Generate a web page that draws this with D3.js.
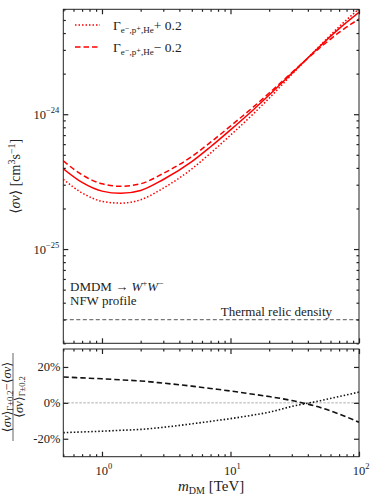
<!DOCTYPE html>
<html lang="en">
<head>
<meta charset="UTF-8">
<title>DM annihilation limits</title>
<script src="https://cdnjs.cloudflare.com/ajax/libs/d3/7.8.5/d3.min.js"></script>
<style>
  body { margin: 0; background: #fff; }
  svg text { fill: #222; }
</style>
</head>
<body>
<script>
// masses in TeV
const masses = [0.5, 0.7, 1, 1.4, 2, 3, 5, 7, 10, 15, 20, 30, 50, 70, 100];
// <sigma v> in cm^3 s^-1
const sigmaCentral = [3.94e-25, 3.12e-25, 2.69e-25, 2.59e-25, 2.72e-25, 3.28e-25, 4.45e-25, 5.74e-25, 7.66e-25, 1.076e-24, 1.387e-24, 2.01e-24, 3.21e-24, 4.31e-24, 5.70e-24];
const sigmaPlus = [3.29e-25, 2.61e-25, 2.26e-25, 2.19e-25, 2.32e-25, 2.83e-25, 3.93e-25, 5.15e-25, 6.99e-25, 1.003e-24, 1.315e-24, 1.970e-24, 3.249e-24, 4.461e-24, 6.042e-24];
const sigmaMinus = [4.51e-25, 3.55e-25, 3.05e-25, 2.92e-25, 3.05e-25, 3.64e-25, 4.86e-25, 6.20e-25, 8.17e-25, 1.128e-24, 1.436e-24, 2.036e-24, 3.127e-24, 4.043e-24, 5.084e-24];
// relative change in percent
const ratioPlus = [-16.6, -16.2, -15.8, -15.3, -14.8, -13.6, -11.7, -10.3, -8.8, -6.8, -5.2, -2.0, 1.2, 3.5, 6.0];
const ratioMinus = [14.4, 13.9, 13.4, 12.8, 12.2, 11.0, 9.3, 8.0, 6.6, 4.8, 3.5, 1.3, -2.6, -6.2, -10.8];
const thermalRelic = 3e-26;
const xTickExps = [0, 1, 2];
const yTickExps = [-25, -24];
const ratioTicks = [-20, 0, 20];

const W = 374, H = 497;
const left = 63.3, right = 359;
const top1 = 9.3, bot1 = 343.3, top2 = 349, bot2 = 456.7;
const serif = '"Liberation Serif", "DejaVu Serif", serif';

const svg = d3.select('body').append('svg')
  .attr('width', W).attr('height', H)
  .attr('font-family', serif);

const x = d3.scaleLog().domain([0.5, 100]).range([left, right]);
const yTop = d3.scaleLog().domain([2e-26, 6e-24]).range([bot1, top1]);
const yBot = d3.scaleLinear().domain([-30, 30]).range([bot2, top2]);

const xMajor = xTickExps.map(e => Math.pow(10, e));
const xMinor = [];
[-1, 0, 1].forEach(e => { for (let k = 2; k <= 9; k++) { const v = k * Math.pow(10, e); if (v >= 0.5 && v <= 100) xMinor.push(v); } });
const yMajor = yTickExps.map(e => Math.pow(10, e));
const yMinor = [];
[-26, -25, -24].forEach(e => { for (let k = 2; k <= 9; k++) { const v = k * Math.pow(10, e); if (v >= 2e-26 && v <= 6e-24) yMinor.push(v); } });

function ticks(g, axisFn, scale, values, size, pos) {
  const a = axisFn(scale).tickValues(values).tickSizeInner(-size).tickSizeOuter(0).tickFormat('');
  const gg = g.append('g').attr('transform', pos).call(a);
  gg.select('.domain').remove();
  gg.selectAll('line').attr('stroke', '#222').attr('stroke-width', 1.2);
}

// clip paths
svg.append('clipPath').attr('id', 'c1').append('rect')
  .attr('x', left).attr('y', top1).attr('width', right - left).attr('height', bot1 - top1);
svg.append('clipPath').attr('id', 'c2').append('rect')
  .attr('x', left).attr('y', top2).attr('width', right - left).attr('height', bot2 - top2);

// ---- top panel ----
const p1 = svg.append('g');
const plot1 = p1.append('g').attr('clip-path', 'url(#c1)');

plot1.append('line')
  .attr('x1', left).attr('x2', right)
  .attr('y1', yTop(thermalRelic)).attr('y2', yTop(thermalRelic))
  .attr('stroke', '#777').attr('stroke-width', 1.3).attr('stroke-dasharray', '4,2.5');

const line1 = d3.line().x((d, i) => x(masses[i])).y(d => yTop(d)).curve(d3.curveMonotoneX);
const red = '#ff0000';
plot1.append('path').datum(sigmaCentral).attr('d', line1)
  .attr('fill', 'none').attr('stroke', red).attr('stroke-width', 1.5);
plot1.append('path').datum(sigmaPlus).attr('d', line1)
  .attr('fill', 'none').attr('stroke', red).attr('stroke-width', 1.5).attr('stroke-dasharray', '1.5,2');
plot1.append('path').datum(sigmaMinus).attr('d', line1)
  .attr('fill', 'none').attr('stroke', red).attr('stroke-width', 1.5).attr('stroke-dasharray', '5.5,3');

ticks(p1, d3.axisBottom, x, xMajor, 5, `translate(0,${bot1})`);
ticks(p1, d3.axisBottom, x, xMinor, 2.5, `translate(0,${bot1})`);
ticks(p1, d3.axisTop, x, xMajor, 5, `translate(0,${top1})`);
ticks(p1, d3.axisTop, x, xMinor, 2.5, `translate(0,${top1})`);
ticks(p1, d3.axisLeft, yTop, yMajor, 5, `translate(${left},0)`);
ticks(p1, d3.axisLeft, yTop, yMinor, 2.5, `translate(${left},0)`);
ticks(p1, d3.axisRight, yTop, yMajor, 5, `translate(${right},0)`);
ticks(p1, d3.axisRight, yTop, yMinor, 2.5, `translate(${right},0)`);

p1.append('rect').attr('x', left).attr('y', top1)
  .attr('width', right - left).attr('height', bot1 - top1)
  .attr('fill', 'none').attr('stroke', '#222').attr('stroke-width', 1);

// y tick labels
yTickExps.forEach(e => {
  const t = p1.append('text').attr('x', left - 4).attr('y', yTop(Math.pow(10, e)) + 5)
    .attr('text-anchor', 'end').attr('font-size', 12.5);
  t.append('tspan').text('10');
  t.append('tspan').attr('dy', -6).attr('font-size', 8.5).text('\u2212' + Math.abs(e));
});

// y label
const yl = p1.append('text').attr('transform', `translate(20,${(top1 + bot1) / 2}) rotate(-90)`)
  .attr('text-anchor', 'middle').attr('font-size', 14);
yl.append('tspan').text('\u27E8');
yl.append('tspan').attr('font-style', 'italic').text('\u03C3v');
yl.append('tspan').text('\u27E9 [cm');
yl.append('tspan').attr('dy', -5).attr('font-size', 10).text('3');
yl.append('tspan').attr('dy', 5).text('s');
yl.append('tspan').attr('dy', -5).attr('font-size', 10).text('\u22121');
yl.append('tspan').attr('dy', 5).text(']');

// legend
const legend = [
  { dash: '1.5,2', sign: '+ 0.2', y: 25 },
  { dash: '5.5,3', sign: '\u2212 0.2', y: 47 }
];
legend.forEach(l => {
  p1.append('line').attr('x1', 75).attr('x2', 100).attr('y1', l.y).attr('y2', l.y)
    .attr('stroke', red).attr('stroke-width', 1.5).attr('stroke-dasharray', l.dash);
  const t = p1.append('text').attr('x', 113).attr('y', l.y + 4.5).attr('font-size', 13.5);
  t.append('tspan').text('\u0393');
  t.append('tspan').attr('dy', 3).attr('font-size', 9).text('e\u207B,p\u207A,He');
  t.append('tspan').attr('dy', -3).text(l.sign);
});

// annotations
const ann = p1.append('text').attr('x', 70).attr('y', 291).attr('font-size', 13);
ann.append('tspan').text('DMDM \u2192 ');
ann.append('tspan').attr('font-style', 'italic').text('W');
ann.append('tspan').attr('dy', -5).attr('font-size', 9).text('+');
ann.append('tspan').attr('dy', 5).attr('font-style', 'italic').text('W');
ann.append('tspan').attr('dy', -5).attr('font-size', 9).text('\u2212');
p1.append('text').attr('x', 70).attr('y', 304.5).attr('font-size', 13).text('NFW profile');
p1.append('text').attr('x', 332).attr('y', 315.5).attr('text-anchor', 'end')
  .attr('font-size', 13).text('Thermal relic density');

// ---- bottom panel ----
const p2 = svg.append('g');
const plot2 = p2.append('g').attr('clip-path', 'url(#c2)');

plot2.append('line').attr('x1', left).attr('x2', right)
  .attr('y1', yBot(0)).attr('y2', yBot(0))
  .attr('stroke', '#999').attr('stroke-width', 0.8).attr('stroke-dasharray', '2.5,1.5');

const line2 = d3.line().x((d, i) => x(masses[i])).y(d => yBot(d)).curve(d3.curveMonotoneX);
plot2.append('path').datum(ratioMinus).attr('d', line2)
  .attr('fill', 'none').attr('stroke', '#111').attr('stroke-width', 1.6).attr('stroke-dasharray', '5.5,3');
plot2.append('path').datum(ratioPlus).attr('d', line2)
  .attr('fill', 'none').attr('stroke', '#111').attr('stroke-width', 1.6).attr('stroke-dasharray', '1.5,2');

ticks(p2, d3.axisBottom, x, xMajor, 5, `translate(0,${bot2})`);
ticks(p2, d3.axisBottom, x, xMinor, 2.5, `translate(0,${bot2})`);
ticks(p2, d3.axisTop, x, xMajor, 5, `translate(0,${top2})`);
ticks(p2, d3.axisTop, x, xMinor, 2.5, `translate(0,${top2})`);
ticks(p2, d3.axisLeft, yBot, ratioTicks, 5, `translate(${left},0)`);
ticks(p2, d3.axisRight, yBot, ratioTicks, 5, `translate(${right},0)`);

p2.append('rect').attr('x', left).attr('y', top2)
  .attr('width', right - left).attr('height', bot2 - top2)
  .attr('fill', 'none').attr('stroke', '#222').attr('stroke-width', 1);

ratioTicks.forEach(v => {
  p2.append('text').attr('x', left - 3).attr('y', yBot(v) + 4.5)
    .attr('text-anchor', 'end').attr('font-size', 12.5).text(v + '%');
});

xTickExps.forEach(e => {
  const t = p2.append('text').attr('x', x(Math.pow(10, e)) + 2).attr('y', bot2 + 18)
    .attr('text-anchor', 'middle').attr('font-size', 12.5);
  t.append('tspan').text('10');
  t.append('tspan').attr('dy', -6).attr('font-size', 8.5).text(e);
});

// x label
const xl = p2.append('text').attr('x', (left + right) / 2).attr('y', 491)
  .attr('text-anchor', 'middle').attr('font-size', 15);
xl.append('tspan').attr('font-style', 'italic').text('m');
xl.append('tspan').attr('dy', 3).attr('font-size', 10).text('DM');
xl.append('tspan').attr('dy', -3).text(' [TeV]');

// ratio y label (stacked fraction)
const fr = p2.append('g').attr('transform', 'translate(0,397) rotate(-90)');
const num = fr.append('text').attr('x', 0).attr('y', 10.5).attr('text-anchor', 'middle').attr('font-size', 12.5);
num.append('tspan').text('\u27E8');
num.append('tspan').attr('font-style', 'italic').text('\u03C3v');
num.append('tspan').text('\u27E9');
num.append('tspan').attr('dy', 2.5).attr('font-size', 8.5).text('\u0393\u00B10.2');
num.append('tspan').attr('dy', -2.5).text('\u2212\u27E8');
num.append('tspan').attr('font-style', 'italic').text('\u03C3v');
num.append('tspan').text('\u27E9');
fr.append('line').attr('x1', -44).attr('x2', 44).attr('y1', 13).attr('y2', 13)
  .attr('stroke', '#222').attr('stroke-width', 0.7);
const den = fr.append('text').attr('x', 0).attr('y', 22.5).attr('text-anchor', 'middle').attr('font-size', 12.5);
den.append('tspan').text('\u27E8');
den.append('tspan').attr('font-style', 'italic').text('\u03C3v');
den.append('tspan').text('\u27E9');
den.append('tspan').attr('dy', 2.5).attr('font-size', 8.5).text('\u0393\u00B10.2');
</script>
</body>
</html>
